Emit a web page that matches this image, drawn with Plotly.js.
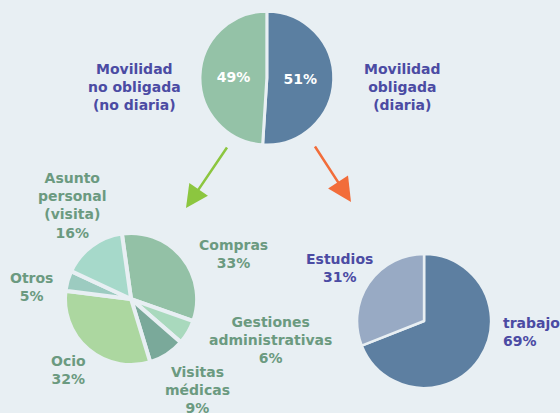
<!DOCTYPE html>
<html>
<head>
<meta charset="utf-8">
<script src="https://cdn.plot.ly/plotly-3.0.1.min.js"></script>
<style>html,body{margin:0;padding:0;background:#e8eff3;}#chart{width:560px;height:413px;}</style>
</head>
<body>
<div id="chart"></div>
<script>
// Top pie: tipo de movilidad
const topLabels = ["Movilidad obligada (diaria)", "Movilidad no obligada (no diaria)"];
const topValues = [51, 49];
const topColors = ["#5b7fa1", "#94c2a7"];

// Bottom-left pie: movilidad no obligada
const noObLabels = ["Compras", "Gestiones administrativas", "Visitas médicas", "Ocio", "Otros", "Asunto personal (visita)"];
const noObText = ["Compras", "Gestiones<br>administrativas", "Visitas<br>médicas", "Ocio", "Otros", "Asunto<br>personal<br>(visita)"];
const noObValues = [33, 6, 9, 32, 5, 16];
const noObColors = ["#93c1a6", "#a9d9bd", "#7aa99a", "#acd7a0", "#9ccbc0", "#a6d9ca"];

// Bottom-right pie: movilidad obligada
const obLabels = ["trabajo", "Estudios"];
const obValues = [69, 31];
const obColors = ["#5d7fa1", "#98aac4"];

const bg = "#e8eff3";
const fontFam = "DejaVu Sans, sans-serif";

const traces = [
  {
    type: "pie", labels: topLabels, values: topValues, sort: false,
    direction: "clockwise", rotation: 0,
    marker: {colors: topColors, line: {color: bg, width: 3}},
    textinfo: "text", text: topValues.map(v => v + "%"),
    textposition: "inside", insidetextorientation: "horizontal",
    textfont: {color: "#ffffff", size: 14, family: fontFam, weight: 700},
    hoverinfo: "label+percent",
    domain: {x: [0.357, 0.596], y: [0.649, 0.973]},
    showlegend: false
  },
  {
    type: "pie", labels: noObLabels, values: noObValues, sort: false,
    direction: "clockwise", rotation: -8,
    marker: {colors: noObColors, line: {color: bg, width: 4}},
    textinfo: "none", hoverinfo: "label+percent",
    domain: {x: [0.116, 0.352], y: [0.116, 0.436]},
    showlegend: false
  },
  {
    type: "pie", labels: obLabels, values: obValues, sort: false,
    direction: "clockwise", rotation: 0,
    marker: {colors: obColors, line: {color: bg, width: 2.5}},
    textinfo: "none", hoverinfo: "label+percent",
    domain: {x: [0.6375, 0.877], y: [0.0605, 0.385]},
    showlegend: false
  }
];

const W = 560, H = 413;
function px(x) { return x / W; }
function py(y) { return 1 - y / H; }

const purple = "#4b4ba3";
const greenTxt = "#6b9a80";

function ann(text, x, y, color, align) {
  return {
    text: text, x: px(x), y: py(y), xref: "paper", yref: "paper",
    showarrow: false, align: align || "center",
    xanchor: align === "left" ? "left" : "center", yanchor: "middle",
    font: {family: fontFam, size: 14, color: color, weight: 700}
  };
}

const noObPos = [[233, 254], [270, 340], [197, 390], [68, 370], [31, 287], [72, 205]];
const annotations = [
  ann("Movilidad<br>no obligada<br>(no diaria)", 134, 87, purple),
  ann("Movilidad<br>obligada<br>(diaria)", 402, 87, purple),
  ann(obLabels[1] + "<br>" + obValues[1] + "%", 339, 268, purple),
  ann(obLabels[0] + "<br>" + obValues[0] + "%", 501, 332, purple, "left")
];
noObText.forEach((t, i) => {
  annotations.push(ann(t + "<br>" + noObValues[i] + "%", noObPos[i][0], noObPos[i][1], greenTxt));
});

// arrows
annotations.push({
  text: "", x: px(186), y: py(208), xref: "paper", yref: "paper",
  showarrow: true, ax: 42, ay: -62, arrowhead: 2, arrowwidth: 2.5, arrowsize: 1.8,
  arrowcolor: "#8cc63f", standoff: 0
});
annotations.push({
  text: "", x: px(351), y: py(202), xref: "paper", yref: "paper",
  showarrow: true, ax: -37, ay: -57, arrowhead: 2, arrowwidth: 2.5, arrowsize: 1.9,
  arrowcolor: "#f26d3a", standoff: 0
});

const layout = {
  width: W, height: H,
  margin: {l: 0, r: 0, t: 0, b: 0},
  paper_bgcolor: bg, plot_bgcolor: bg,
  font: {family: fontFam},
  annotations: annotations,
  showlegend: false
};

Plotly.newPlot("chart", traces, layout, {displayModeBar: false, staticPlot: true});
</script>
</body>
</html>
